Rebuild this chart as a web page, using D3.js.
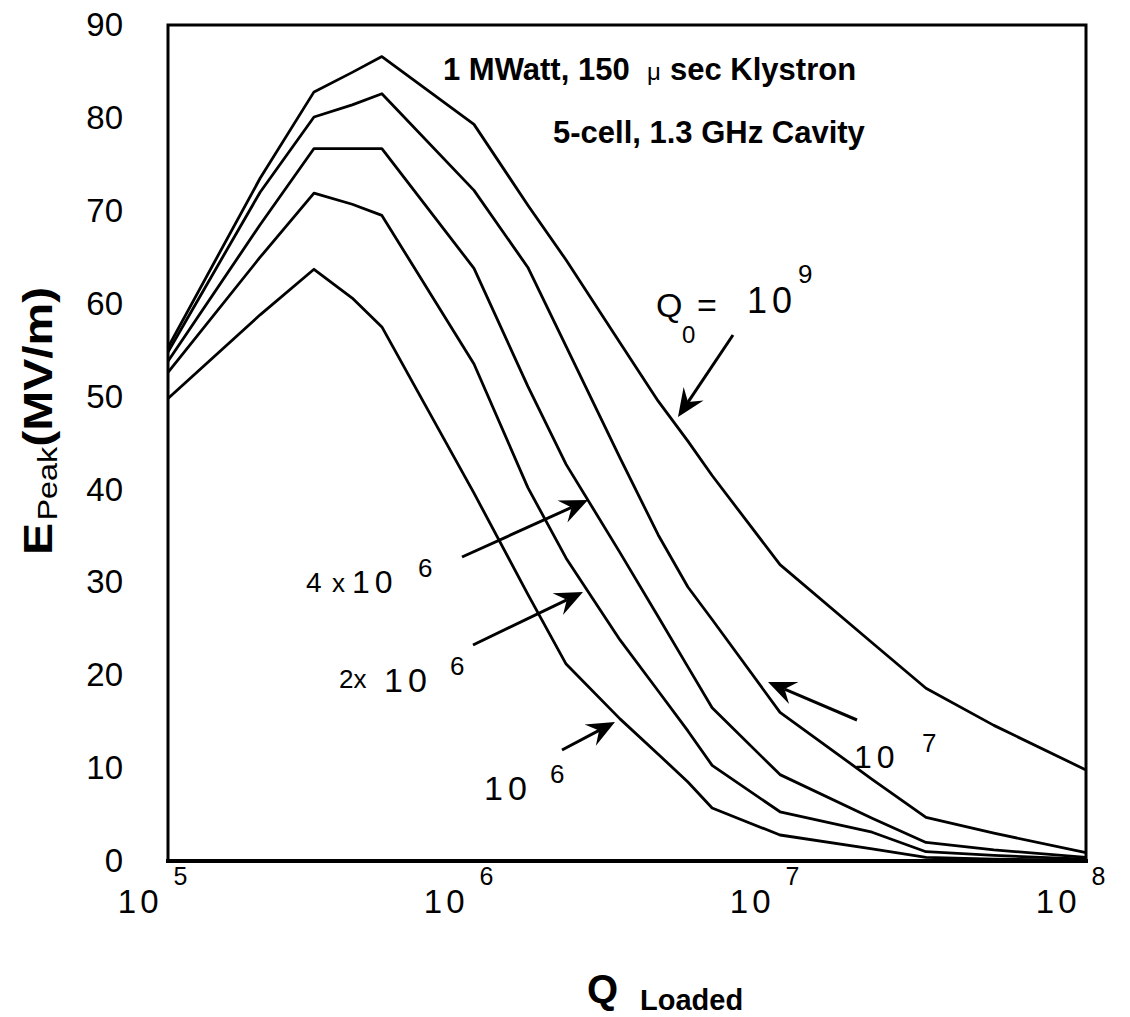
<!DOCTYPE html>
<html>
<head>
<meta charset="utf-8">
<script src="https://cdn.jsdelivr.net/npm/d3@7"></script>
<style>
  body { margin: 0; background: #fff; }
  svg { display: block; font-family: "Liberation Sans", Arial, sans-serif; }
</style>
</head>
<body>
<script>
// Q loaded values where the curves have their vertices
var qLoaded = [1e5, 2e5, 3e5, 4e5, 5e5, 1e6, 1.5e6, 2e6, 3e6, 4e6, 5e6, 6e6, 1e7, 2e7, 3e7, 5e7, 1e8];

// E peak (MV/m) for each Q0
var ePeakQ0_1e9 = [55.3, 73.5, 82.8, 84.9, 86.6, 79.3, 70.6, 64.7, 55.8, 49.5, 45.2, 41.5, 31.9, 23.5, 18.6, 14.6, 9.8];
var ePeakQ0_1e7 = [54.8, 72.0, 80.1, 81.4, 82.6, 72.2, 63.9, 55.4, 43.4, 35.1, 29.5, 26.0, 16.0, 8.8, 4.7, 3.0, 0.9];
var ePeakQ0_4e6 = [53.8, 68.5, 76.7, 76.7, 76.7, 63.8, 51.1, 42.7, 33.2, 26.3, 20.9, 16.5, 9.3, 4.6, 2.0, 1.2, 0.4];
var ePeakQ0_2e6 = [52.6, 65.0, 71.9, 70.7, 69.5, 53.5, 40.2, 32.6, 23.8, 18.3, 14.0, 10.3, 5.3, 3.1, 1.0, 0.6, 0.2];
var ePeakQ0_1e6 = [49.8, 58.8, 63.7, 60.6, 57.5, 39.6, 28.7, 21.2, 15.3, 11.5, 8.5, 5.7, 2.8, 1.3, 0.4, 0.2, 0.1];

var yTicks = [0, 10, 20, 30, 40, 50, 60, 70, 80, 90];
var xTicks = [1e5, 1e6, 1e7, 1e8];

var w = 1130;
var h = 1017;

var svg = d3.select("body").append("svg")
    .attr("width", w)
    .attr("height", h);

//scales
var x = d3.scaleLog().domain([1e5, 1e8]).range([168, 1086]);
var y = d3.scaleLinear().domain([0, 90]).range([861, 25]);

//y axis labels
var gy = svg.append("g")
    .attr("transform", "translate(168,0)")
    .call(d3.axisLeft(y).tickValues(yTicks).tickSize(0).tickPadding(45));
gy.select(".domain").remove();
gy.selectAll(".tick text")
    .attr("font-size", 33)
    .attr("font-family", "Liberation Sans, Arial, sans-serif")
    .attr("fill", "#000");

//x axis labels, 10 with exponent
var gx = svg.append("g")
    .attr("transform", "translate(0,861)")
    .call(d3.axisBottom(x).tickValues(xTicks).tickSize(0).tickFormat(""));
gx.select(".domain").remove();
gx.selectAll(".tick").each(function (d) {
    var t = d3.select(this);
    t.append("text")
        .attr("x", -6)
        .attr("y", 52)
        .attr("text-anchor", "end")
        .attr("font-size", 33)
        .attr("letter-spacing", 4)
        .attr("fill", "#000")
        .text("10");
    t.append("text")
        .attr("x", 12)
        .attr("y", 24)
        .attr("font-size", 25)
        .attr("fill", "#000")
        .text(Math.round(Math.log10(d)));
});

//lines
var line = d3.line()
    .x(function (d) { return x(d[0]); })
    .y(function (d) { return y(d[1]); });

var series = [ePeakQ0_1e9, ePeakQ0_1e7, ePeakQ0_4e6, ePeakQ0_2e6, ePeakQ0_1e6];
svg.selectAll("path.curve")
    .data(series)
    .enter()
    .append("path")
    .attr("class", "curve")
    .attr("d", function (s) { return line(qLoaded.map(function (q, i) { return [q, s[i]]; })); })
    .attr("fill", "none")
    .attr("stroke", "#000")
    .attr("stroke-width", 2.8)
    .attr("stroke-linejoin", "round");

//plot frame
svg.append("rect")
    .attr("x", 168).attr("y", 25)
    .attr("width", 918).attr("height", 836)
    .attr("fill", "none")
    .attr("stroke", "#000")
    .attr("stroke-width", 3);
svg.append("line")
    .attr("x1", 166).attr("x2", 1088)
    .attr("y1", 861).attr("y2", 861)
    .attr("stroke", "#000")
    .attr("stroke-width", 4);

//title lines
var t1 = svg.append("text").attr("y", 80).attr("font-size", 31).attr("font-weight", "bold");
t1.append("tspan").attr("x", 443).text("1 MWatt, 150");
t1.append("tspan").attr("x", 647).attr("font-weight", "normal").attr("font-size", 24).text("\u03bc");
t1.append("tspan").attr("x", 670).text("sec Klystron");

svg.append("text")
    .attr("x", 553).attr("y", 143)
    .attr("font-size", 31).attr("font-weight", "bold")
    .text("5-cell, 1.3 GHz Cavity");

//axis titles
var yl = svg.append("text")
    .attr("transform", "translate(52,555) rotate(-90) scale(1.2,1)")
    .attr("font-weight", "bold");
yl.append("tspan").attr("font-size", 40).text("E");
yl.append("tspan").attr("font-size", 27).attr("font-weight", "normal").attr("dy", 5).attr("dx", 2).text("Peak");
yl.append("tspan").attr("font-size", 40).attr("dy", -5).text("(MV/m)");

var xl = svg.append("text").attr("font-weight", "bold");
xl.append("tspan").attr("x", 587).attr("y", 1003).attr("font-size", 40).text("Q");
xl.append("tspan").attr("x", 640).attr("y", 1010).attr("font-size", 29).text("Loaded");

//annotation texts
function label(parts) {
    var g = svg.append("text").attr("fill", "#000");
    parts.forEach(function (p) {
        g.append("tspan")
            .attr("x", p[0]).attr("y", p[1])
            .attr("font-size", p[2])
            .attr("letter-spacing", p[4] || 0)
            .text(p[3]);
    });
}
label([[656, 317, 34, "Q"], [682, 343, 24, "0"], [697, 317, 34, "="], [747, 313, 36, "10", 5], [798, 283, 26, "9"]]);
label([[306, 592, 28, "4"], [332, 592, 26, "x"], [352, 593, 32, "10", 5], [418, 577, 26, "6"]]);
label([[339, 688, 26, "2x"], [384, 692, 34, "10", 5], [450, 675, 26, "6"]]);
label([[484, 800, 34, "10", 5], [550, 783, 26, "6"]]);
label([[854, 768, 32, "10", 5], [922, 752, 26, "7"]]);

//arrows: tail -> tip
var arrows = [
    [[733, 335], [678, 417]],
    [[462, 557], [588, 500]],
    [[473, 645], [583, 592]],
    [[562, 750], [615, 722]],
    [[857, 720], [768, 682]]
];
arrows.forEach(function (a) {
    var dx = a[1][0] - a[0][0], dy = a[1][1] - a[0][1];
    var len = Math.sqrt(dx * dx + dy * dy);
    var ux = dx / len, uy = dy / len;
    var px = -uy, py = ux;
    var L = 28, W = 12, N = 18;
    var tip = a[1];
    var base = [tip[0] - L * ux, tip[1] - L * uy];
    var notch = [tip[0] - N * ux, tip[1] - N * uy];
    svg.append("line")
        .attr("x1", a[0][0]).attr("y1", a[0][1])
        .attr("x2", notch[0]).attr("y2", notch[1])
        .attr("stroke", "#000").attr("stroke-width", 3);
    svg.append("path")
        .attr("d", "M" + tip + "L" + [base[0] + W * px, base[1] + W * py] + "L" + notch +
            "L" + [base[0] - W * px, base[1] - W * py] + "Z")
        .attr("fill", "#000");
});
</script>
</body>
</html>
